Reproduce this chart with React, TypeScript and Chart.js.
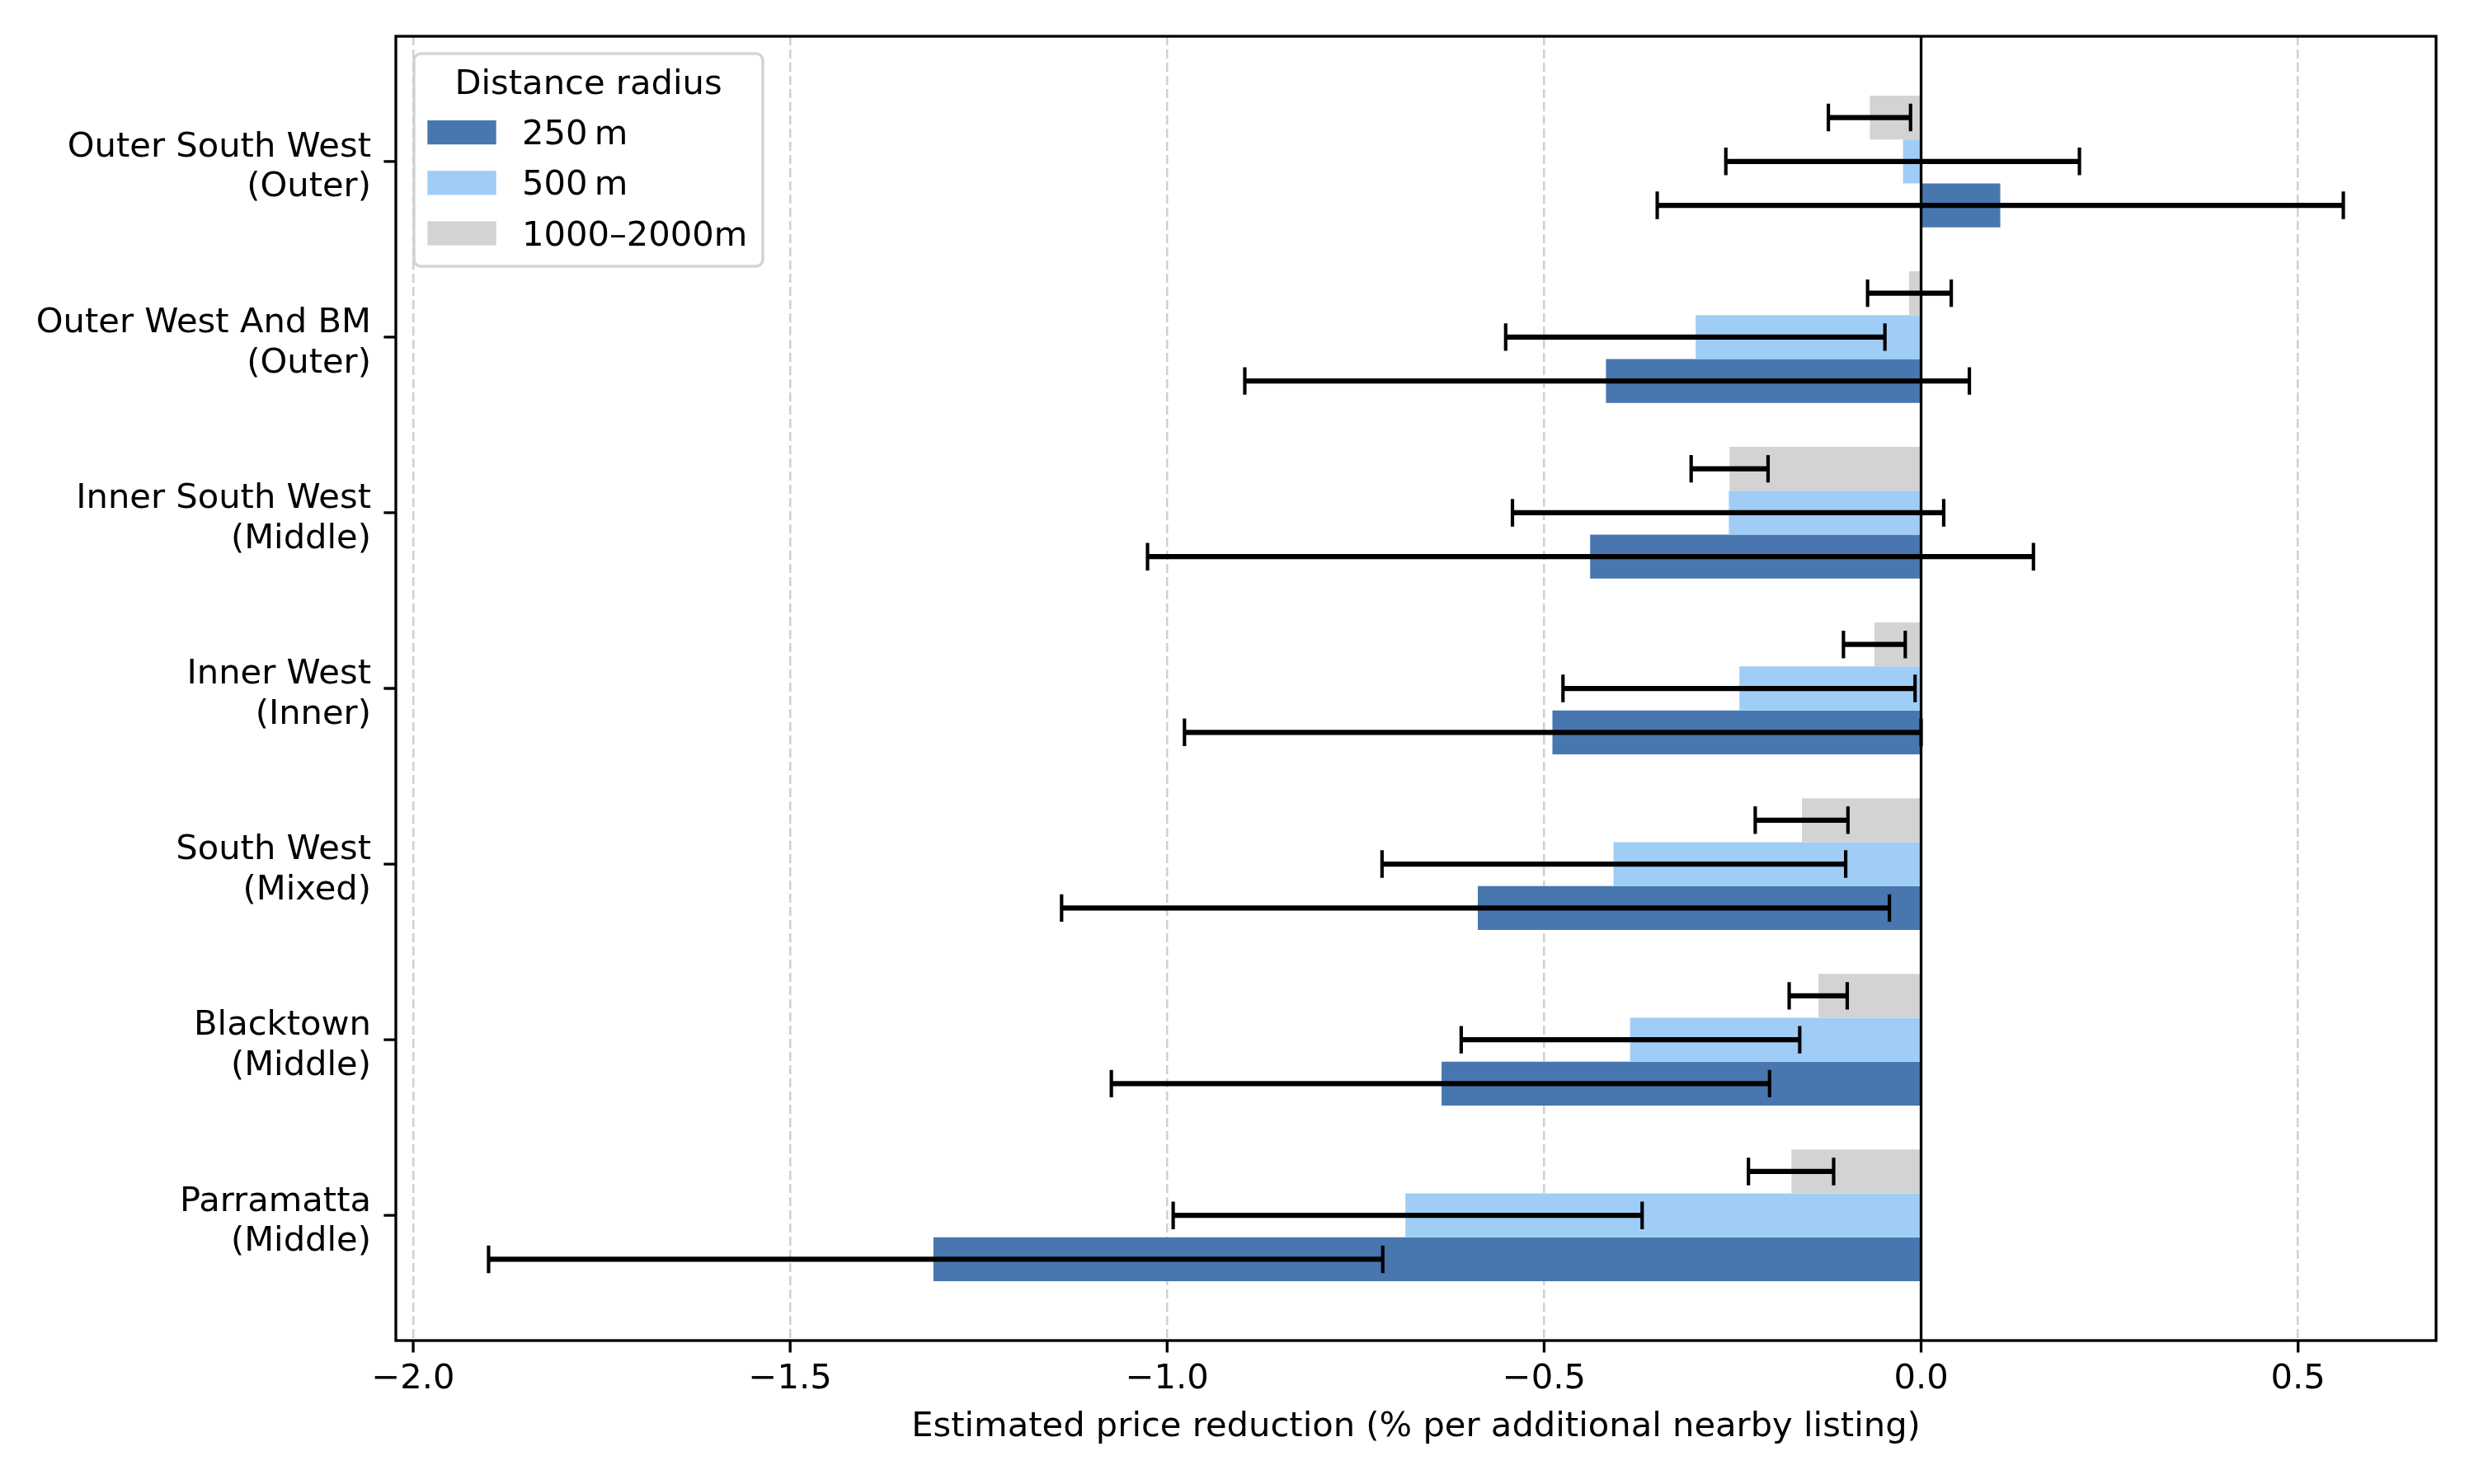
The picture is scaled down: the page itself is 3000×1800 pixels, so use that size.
import React, { useEffect, useRef } from "react";
import { Chart, registerables } from "chart.js";

Chart.register(...registerables);

// Regions, bottom to top (as in the reference, Parramatta at the bottom)
const REGION_NAMES = [
  "Parramatta",
  "Blacktown",
  "South West",
  "Inner West",
  "Inner South West",
  "Outer West And BM",
  "Outer South West",
];
const REGION_RINGS = ["Middle", "Middle", "Mixed", "Inner", "Middle", "Outer", "Outer"];

// 250 m radius
const EST_250 = [-1.31, -0.636, -0.588, -0.489, -0.439, -0.418, 0.105];
const LO_250 = [-1.9, -1.074, -1.14, -0.977, -1.026, -0.897, -0.35];
const HI_250 = [-0.714, -0.201, -0.042, 0.0, 0.149, 0.064, 0.56];

// 500 m radius
const EST_500 = [-0.684, -0.386, -0.408, -0.241, -0.255, -0.299, -0.024];
const LO_500 = [-0.992, -0.61, -0.715, -0.475, -0.542, -0.551, -0.259];
const HI_500 = [-0.37, -0.161, -0.1, -0.008, 0.03, -0.048, 0.21];

// 1000–2000 m radius
const EST_2000 = [-0.172, -0.136, -0.158, -0.062, -0.254, -0.016, -0.068];
const LO_2000 = [-0.229, -0.175, -0.22, -0.103, -0.305, -0.071, -0.123];
const HI_2000 = [-0.116, -0.098, -0.097, -0.021, -0.203, 0.04, -0.014];

const SERIES_LABELS = ["250\u2009m", "500\u2009m", "1000\u20132000m"];
const SERIES_COLORS = ["#4877b0", "#a0cdf6", "#d3d3d3"];

const X_TICKS = [-2.0, -1.5, -1.0, -0.5, 0.0, 0.5];
const X_TITLE = "Estimated price reduction (% per additional nearby listing)";
const LEGEND_TITLE = "Distance radius";

const FONT = "'DejaVu Sans', 'Noto Sans', sans-serif";
const FS = 41.67;

export default function App() {
  const ref = useRef<HTMLCanvasElement | null>(null);

  useEffect(() => {
    if (!ref.current) return;

    const series = [
      { label: SERIES_LABELS[0], color: SERIES_COLORS[0], est: EST_250, lo: LO_250, hi: HI_250 },
      { label: SERIES_LABELS[1], color: SERIES_COLORS[1], est: EST_500, lo: LO_500, hi: HI_500 },
      { label: SERIES_LABELS[2], color: SERIES_COLORS[2], est: EST_2000, lo: LO_2000, hi: HI_2000 },
    ];
    // Chart.js places dataset 0 at the top of each group: reverse so 250 m sits at the bottom
    const drawOrder = [2, 1, 0];

    const allLo = [...LO_250, ...LO_500, ...LO_2000];
    const allHi = [...HI_250, ...HI_500, ...HI_2000];
    const dMin = Math.min(...allLo);
    const dMax = Math.max(...allHi);
    const xPad = 0.05 * (dMax - dMin);
    const groupHalf = 0.375;
    const n = REGION_NAMES.length;
    const yPad = 0.05 * (n - 1 + 2 * groupHalf);

    const overlay = {
      id: "overlay",
      afterDraw(chart: any) {
        const ctx = chart.ctx as CanvasRenderingContext2D;
        const { left, right, top, bottom } = chart.chartArea;
        const xs = chart.scales.x;
        const ys = chart.scales.y;
        ctx.save();
        ctx.strokeStyle = "#000";
        ctx.lineCap = "butt";

        // zero line
        const x0 = xs.getPixelForValue(0);
        ctx.lineWidth = 3.33;
        ctx.beginPath();
        ctx.moveTo(x0, top);
        ctx.lineTo(x0, bottom);
        ctx.stroke();

        // error bars
        drawOrder.forEach((si, d) => {
          const s = series[si];
          const meta = chart.getDatasetMeta(d);
          meta.data.forEach((el: any, i: number) => {
            const y = el.y;
            const x1 = xs.getPixelForValue(s.lo[i]);
            const x2 = xs.getPixelForValue(s.hi[i]);
            ctx.lineWidth = 6.25;
            ctx.beginPath();
            ctx.moveTo(x1, y);
            ctx.lineTo(x2, y);
            ctx.stroke();
            ctx.lineWidth = 4.17;
            ctx.beginPath();
            ctx.moveTo(x1, y - 16.7);
            ctx.lineTo(x1, y + 16.7);
            ctx.moveTo(x2, y - 16.7);
            ctx.lineTo(x2, y + 16.7);
            ctx.stroke();
          });
        });

        // frame
        ctx.lineWidth = 3.33;
        ctx.strokeRect(left, top, right - left, bottom - top);

        // tick marks
        ctx.lineWidth = 3.33;
        ctx.beginPath();
        X_TICKS.forEach((v) => {
          const px = xs.getPixelForValue(v);
          ctx.moveTo(px, bottom);
          ctx.lineTo(px, bottom + 14.6);
        });
        REGION_NAMES.forEach((_, i) => {
          const py = ys.getPixelForValue(i);
          ctx.moveTo(left, py);
          ctx.lineTo(left - 14.6, py);
        });
        ctx.stroke();

        // legend
        const lx = 502, ly = 65, lw = 423, lh = 258, r = 8.3;
        ctx.beginPath();
        ctx.moveTo(lx + r, ly);
        ctx.lineTo(lx + lw - r, ly);
        ctx.arcTo(lx + lw, ly, lx + lw, ly + r, r);
        ctx.lineTo(lx + lw, ly + lh - r);
        ctx.arcTo(lx + lw, ly + lh, lx + lw - r, ly + lh, r);
        ctx.lineTo(lx + r, ly + lh);
        ctx.arcTo(lx, ly + lh, lx, ly + lh - r, r);
        ctx.lineTo(lx, ly + r);
        ctx.arcTo(lx, ly, lx + r, ly, r);
        ctx.closePath();
        ctx.fillStyle = "rgba(255,255,255,0.8)";
        ctx.fill();
        ctx.lineWidth = 3.5;
        ctx.strokeStyle = "rgba(204,204,204,0.85)";
        ctx.stroke();

        ctx.font = `${FS}px ${FONT}`;
        ctx.fillStyle = "#000";
        ctx.textBaseline = "alphabetic";
        ctx.textAlign = "center";
        ctx.fillText(LEGEND_TITLE, lx + lw / 2, 114);

        ctx.textAlign = "left";
        series.forEach((s, k) => {
          const rowTop = 146 + k * 61.2;
          ctx.fillStyle = s.color;
          ctx.fillRect(518.3, rowTop, 83.4, 29.2);
          ctx.fillStyle = "#000";
          ctx.fillText(s.label, 633, rowTop + 29.2);
        });

        ctx.restore();
      },
    };

    const whiteBg = {
      id: "whiteBg",
      beforeDraw(chart: any) {
        const ctx = chart.ctx;
        ctx.save();
        ctx.fillStyle = "#fff";
        ctx.fillRect(0, 0, chart.width, chart.height);
        ctx.restore();
      },
    };

    const chart = new Chart(ref.current, {
      type: "bar",
      data: {
        datasets: drawOrder.map((si) => ({
          label: series[si].label,
          data: series[si].est.map((v, i) => ({ x: v, y: i })),
          backgroundColor: series[si].color,
          borderWidth: 0,
          categoryPercentage: 0.75,
          barPercentage: 1.0,
        })),
      } as any,
      options: {
        indexAxis: "y",
        animation: false,
        responsive: true,
        maintainAspectRatio: false,
        devicePixelRatio: 1,
        events: [],
        layout: { padding: { left: 0, top: 44, right: 46, bottom: 0 } },
        plugins: {
          legend: { display: false },
          tooltip: { enabled: false },
        },
        scales: {
          x: {
            type: "linear",
            position: "bottom",
            offset: false,
            min: dMin - xPad,
            max: dMax + xPad,
            z: 1,
            afterBuildTicks: (s: any) => {
              s.ticks = X_TICKS.map((v) => ({ value: v }));
            },
            afterFit: (s: any) => {
              s.height = 174;
              s.paddingLeft = 0;
              s.paddingRight = 0;
            },
            ticks: {
              autoSkip: false,
              maxRotation: 0,
              padding: 22,
              color: "#000",
              font: { family: FONT, size: FS, lineHeight: 1.2 },
              callback: (v: any) => (Number(v) < 0 ? "\u2212" : "") + Math.abs(Number(v)).toFixed(1),
            },
            grid: {
              display: true,
              offset: false,
              drawOnChartArea: true,
              drawTicks: false,
              color: "rgba(176,176,176,0.6)",
              lineWidth: 2.5,
            },
            border: { display: false, dash: [11, 5] },
            title: {
              display: true,
              text: X_TITLE,
              color: "#000",
              font: { family: FONT, size: FS, lineHeight: 1.2 },
              padding: { top: 0, bottom: 44 },
            },
          },
          y: {
            type: "linear",
            position: "left",
            offset: false,
            min: -groupHalf - yPad,
            max: n - 1 + groupHalf + yPad,
            afterBuildTicks: (s: any) => {
              s.ticks = REGION_NAMES.map((_, i) => ({ value: i }));
            },
            afterFit: (s: any) => {
              s.width = 480;
              s.paddingTop = 0;
              s.paddingBottom = 0;
            },
            ticks: {
              autoSkip: false,
              padding: 30,
              labelOffset: 7.7,
              color: "#000",
              font: { family: FONT, size: FS, lineHeight: 1.16 },
              callback: (v: any) => {
                const i = Math.round(Number(v));
                return [REGION_NAMES[i], `(${REGION_RINGS[i]})`];
              },
            },
            grid: { display: false, offset: false, drawTicks: false },
            border: { display: false },
          },
        },
      } as any,
      plugins: [whiteBg, overlay],
    });

    return () => chart.destroy();
  }, []);

  return (
    <div style={{ position: "fixed", left: 0, top: 0, width: 3000, height: 1800, background: "#fff" }}>
      <canvas ref={ref} />
    </div>
  );
}
